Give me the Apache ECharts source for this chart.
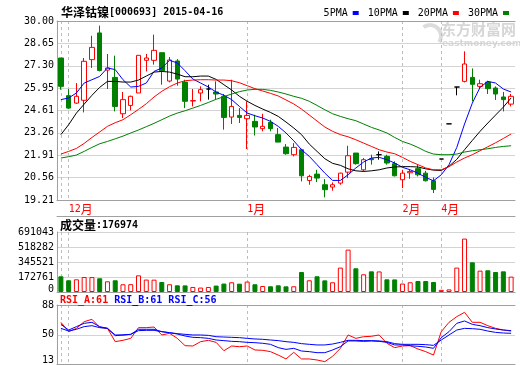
<!DOCTYPE html>
<html>
<head>
<meta charset="utf-8">
<script src="https://cdn.jsdelivr.net/npm/echarts@6/dist/echarts.min.js"></script>
<style>
html, body { margin: 0; padding: 0; background: #fff; }
#chart { width: 520px; height: 365px; }
</style>
</head>
<body>
<div id="chart"></div>
<script>
// 交易日
const dates = [
  '2014-11-28',
  '2014-12-01', '2014-12-02', '2014-12-03', '2014-12-04', '2014-12-05',
  '2014-12-08', '2014-12-09', '2014-12-10', '2014-12-11', '2014-12-12',
  '2014-12-15', '2014-12-16', '2014-12-17', '2014-12-18', '2014-12-19',
  '2014-12-22', '2014-12-23', '2014-12-24', '2014-12-25', '2014-12-26',
  '2014-12-29', '2014-12-30', '2014-12-31',
  '2015-01-05', '2015-01-06', '2015-01-07', '2015-01-08', '2015-01-09',
  '2015-01-12', '2015-01-13', '2015-01-14', '2015-01-15', '2015-01-16',
  '2015-01-19', '2015-01-20', '2015-01-21', '2015-01-22', '2015-01-23',
  '2015-01-26', '2015-01-27', '2015-01-28', '2015-01-29', '2015-01-30',
  '2015-02-02', '2015-02-03', '2015-02-04', '2015-02-05', '2015-02-06',
  '2015-04-02', '2015-04-03', '2015-04-07', '2015-04-08', '2015-04-09',
  '2015-04-10', '2015-04-13', '2015-04-14', '2015-04-15', '2015-04-16'
]

// K线
const opens = [27.77, 25.50, 25.05, 25.22, 27.67, 29.28, 27.04, 26.60, 24.41, 24.91,
  25.66, 27.63, 27.63, 28.09, 26.38, 27.59, 26.32, 25.18, 25.66, 25.90,
  25.72, 25.46, 24.21, 24.31, 24.11, 23.95, 23.51, 23.89, 23.15, 22.40,
  21.94, 22.24, 20.39, 20.77, 20.13, 19.99, 20.23, 20.89, 22.04, 21.03,
  21.70, 21.94, 21.84, 21.40, 20.43, 20.85, 21.10, 20.83, 20.37, 21.68,
  23.80, 26.02, 26.36, 26.60, 26.06, 26.32, 25.96, 25.42, 24.99]
const closes = [26.06, 24.75, 25.46, 27.57, 28.41, 27.02, 27.17, 24.85, 25.26, 25.46,
  27.93, 27.77, 28.23, 27.00, 27.65, 26.50, 25.16, 25.20, 25.86, 25.90,
  25.60, 24.19, 24.85, 24.19, 24.31, 23.61, 23.65, 23.51, 22.70, 22.00,
  22.38, 20.67, 20.63, 20.53, 19.83, 20.13, 20.83, 21.88, 21.40, 21.64,
  21.64, 21.94, 21.44, 20.67, 20.83, 20.93, 20.73, 20.37, 19.85, 21.68,
  23.80, 26.02, 27.41, 26.18, 26.22, 25.92, 25.60, 25.26, 25.46]
const lows = [25.86, 24.70, 25.00, 24.49, 27.17, 26.96, 25.90, 24.55, 24.15, 24.61,
  25.66, 26.96, 27.37, 26.16, 26.30, 26.10, 24.75, 24.85, 25.16, 25.26,
  25.26, 23.45, 23.79, 23.85, 22.28, 23.10, 23.35, 23.35, 22.70, 21.94,
  21.84, 20.33, 20.13, 20.29, 19.37, 19.77, 20.13, 20.53, 21.34, 20.93,
  21.34, 21.64, 21.34, 20.63, 19.93, 20.49, 20.63, 20.33, 19.63, 21.68,
  23.80, 25.52, 26.30, 25.16, 25.96, 25.60, 25.24, 24.55, 24.85]
const highs = [27.77, 25.90, 26.26, 27.77, 29.11, 29.72, 28.01, 27.91, 25.72, 25.50,
  27.93, 28.01, 29.18, 28.09, 27.83, 27.70, 26.46, 25.90, 26.06, 26.16,
  26.36, 25.60, 26.46, 24.75, 25.16, 24.35, 24.41, 24.05, 23.55, 22.58,
  22.64, 22.30, 20.73, 21.03, 20.47, 20.27, 20.85, 22.48, 22.04, 21.74,
  21.94, 22.14, 21.94, 21.54, 21.03, 21.03, 21.34, 20.97, 20.57, 21.68,
  23.80, 26.02, 28.17, 27.14, 26.46, 26.40, 26.06, 25.72, 25.60]

// 均线
const ma5 = [25.26, 25.36, 25.66, 26.26, 26.46, 26.66, 27.17, 27.07, 26.46, 26.02,
  26.06, 26.26, 26.96, 27.17, 27.63, 27.47, 27.00, 26.50, 26.26, 26.02,
  25.72, 25.52, 25.26, 24.85, 24.45, 24.29, 24.15, 23.95, 23.65, 23.25,
  22.78, 22.24, 21.84, 21.34, 20.83, 20.39, 20.39, 20.73, 21.14, 21.50,
  21.74, 21.78, 21.64, 21.44, 21.18, 21.03, 20.83, 20.57, 20.37, 20.73,
  21.34, 22.38, 23.79, 25.05, 26.00, 26.36, 26.26, 25.90, 25.72]
const ma10 = [23.15, 23.75, 24.45, 24.99, 25.52, 26.00, 26.36, 26.36, 26.32, 26.32,
  26.44, 26.68, 26.92, 26.96, 26.92, 26.80, 26.64, 26.64, 26.68, 26.68,
  26.48, 26.16, 25.84, 25.46, 25.16, 24.91, 24.69, 24.49, 24.25, 23.91,
  23.55, 23.15, 22.58, 22.14, 21.70, 21.42, 21.30, 21.09, 20.97, 20.93,
  20.97, 21.03, 21.14, 21.20, 21.22, 21.22, 21.20, 21.09, 21.01, 20.99,
  21.24, 21.66, 22.24, 22.80, 23.35, 23.85, 24.33, 24.81, 25.36]
const ma20 = [21.98, 22.14, 22.32, 22.62, 22.98, 23.31, 23.65, 23.87, 24.05, 24.35,
  24.67, 25.01, 25.42, 25.76, 26.04, 26.26, 26.40, 26.44, 26.46, 26.46,
  26.44, 26.44, 26.40, 26.28, 26.10, 25.92, 25.78, 25.64, 25.48, 25.24,
  25.00, 24.69, 24.33, 23.97, 23.61, 23.35, 23.15, 23.02, 22.84, 22.64,
  22.44, 22.24, 22.10, 22.00, 21.78, 21.54, 21.34, 21.14, 21.03, 21.03,
  21.22, 21.50, 21.74, 21.94, 22.18, 22.42, 22.66, 22.92, 23.19]
const ma30 = [21.74, 21.82, 21.92, 22.14, 22.38, 22.60, 22.74, 22.90, 23.06, 23.25,
  23.43, 23.63, 23.83, 24.05, 24.27, 24.45, 24.59, 24.75, 24.91, 25.09,
  25.28, 25.44, 25.60, 25.74, 25.84, 25.88, 25.88, 25.82, 25.72, 25.60,
  25.46, 25.34, 25.16, 24.91, 24.65, 24.41, 24.25, 24.11, 23.99, 23.79,
  23.59, 23.43, 23.25, 22.98, 22.74, 22.58, 22.38, 22.14, 21.98, 21.94,
  21.94, 21.98, 22.10, 22.18, 22.24, 22.30, 22.38, 22.44, 22.48]

// 成交量
const volumes = [181000, 135000, 146000, 173000, 172000, 158000, 123000, 135000, 89000, 90000,
  192000, 143000, 142000, 115000, 89000, 77000, 76000, 58000, 51000, 58000,
  74000, 97000, 112000, 96000, 120000, 89000, 69000, 66000, 77000, 65000,
  66000, 230000, 135000, 181000, 134000, 112000, 281000, 488000, 273000, 204000,
  238000, 237000, 146000, 145000, 97000, 112000, 127000, 126000, 115000, 25000,
  30000, 281000, 615000, 342000, 246000, 250000, 230000, 238000, 176974]

// RSI
const rsiA = [66.0, 54.1, 58.3, 66.8, 69.8, 59.6, 58.3, 41.4, 43.1, 45.6,
  59.2, 59.2, 60.0, 49.9, 52.0, 45.6, 36.3, 35.9, 41.4, 43.1,
  40.5, 29.9, 35.9, 35.0, 35.9, 30.8, 30.4, 28.7, 24.4, 19.4,
  27.8, 19.4, 19.4, 18.1, 16.0, 22.8, 32.9, 49.9, 45.6, 47.7,
  48.2, 49.9, 39.3, 33.8, 35.9, 36.3, 32.1, 28.7, 24.4, 54.1,
  66.0, 73.2, 78.7, 66.0, 66.0, 61.7, 58.3, 56.2, 54.9]
const rsiB = [63.4, 56.2, 60.5, 64.7, 66.0, 60.5, 58.3, 49.9, 49.9, 50.7,
  57.1, 57.1, 57.1, 54.1, 52.8, 51.1, 48.6, 46.9, 46.5, 45.6,
  43.5, 42.7, 41.8, 41.4, 40.5, 40.1, 39.3, 38.0, 33.8, 31.6,
  32.9, 29.5, 28.7, 27.4, 27.4, 30.8, 35.0, 42.3, 42.3, 41.8,
  42.3, 41.8, 40.5, 37.2, 37.2, 36.3, 35.5, 34.6, 32.9, 46.5,
  54.1, 64.7, 67.7, 63.4, 61.7, 59.2, 57.5, 56.2, 55.4]
const rsiC = [58.3, 54.9, 57.1, 60.5, 61.7, 59.2, 58.3, 49.0, 49.9, 50.7,
  55.4, 55.8, 55.8, 54.1, 52.8, 51.6, 50.7, 49.9, 49.9, 49.4,
  47.7, 47.3, 46.9, 46.5, 45.6, 44.8, 44.4, 43.5, 42.7, 41.4,
  40.5, 38.9, 38.0, 37.2, 37.2, 38.4, 40.5, 43.1, 43.1, 42.7,
  42.7, 42.3, 41.4, 38.9, 38.0, 38.0, 38.0, 37.6, 36.7, 43.5,
  49.9, 56.2, 58.3, 57.9, 57.1, 54.9, 53.2, 52.4, 52.0]

// 刻度
const priceTicks = [19.21, 20.56, 21.91, 23.26, 24.61, 25.95, 27.30, 28.65, 30.00]
const volTicks = [0, 172761, 345521, 518282, 691043]
const rsiTicks = [13, 50, 88]

const MONO = 'DejaVu Sans Mono'
const CJK = 'Noto Sans CJK SC'
const RED = '#ff0000'
const GREEN = '#008000'
const BLUE = '#0000ff'
const FRAME = '#a0a0a0'
const GRID = '#d4d4d4'

const chart = echarts.init(document.getElementById('chart'))

function monthOf(i) {
  return dates[i].slice(5, 7)
}

function isMonthStart(i) {
  return i > 0 && monthOf(i) !== monthOf(i - 1)
}

// 月份分隔虚线（第一根也画）
const splitX = {
  show: true,
  alignWithLabel: true,
  interval: (i) => i === 0 || isMonthStart(i),
  lineStyle: { color: '#bdbdbd', type: [3, 3], width: 1 }
}

function xAxisFor(gridIndex, showLabel) {
  return {
    type: 'category',
    gridIndex: gridIndex,
    data: dates,
    boundaryGap: true,
    axisLine: { show: true, lineStyle: { color: FRAME } },
    axisTick: { show: false },
    axisLabel: {
      show: showLabel,
      interval: (i) => isMonthStart(i),
      formatter: (v) => '{d|' + parseInt(v.slice(5, 7), 10) + '}{m|月}',
      align: 'left',
      margin: 3,
      rich: {
        d: { fontFamily: MONO, fontSize: 10, color: RED },
        m: { fontFamily: CJK, fontSize: 12, color: RED }
      }
    },
    splitLine: splitX
  }
}

function frameTop(gridIndex, offset) {
  return {
    type: 'category',
    gridIndex: gridIndex,
    data: dates,
    position: 'top',
    offset: offset,
    axisLine: { show: true, lineStyle: { color: FRAME } },
    axisTick: { show: false },
    axisLabel: { show: false },
    splitLine: { show: false }
  }
}

function yAxisFor(gridIndex, min, max, ticks, fmt, lowPad) {
  return {
    type: 'value',
    gridIndex: gridIndex,
    min: min,
    max: max,
    axisLine: { show: true, lineStyle: { color: FRAME } },
    axisTick: { show: false, customValues: ticks },
    axisLabel: {
      customValues: ticks,
      hideOverlap: false,
      formatter: (v) => (v === min && lowPad ? '{lo|' + fmt(v) + '}' : fmt(v)),
      fontFamily: MONO,
      fontSize: 10,
      color: '#000',
      margin: 3,
      rich: {
        lo: { fontFamily: MONO, fontSize: 10, color: '#000', padding: [0, 0, lowPad || 0, 0] }
      }
    },
    splitLine: { show: true, lineStyle: { color: GRID, width: 1 } }
  }
}

const candleData = opens.map((o, i) => [o, closes[i], lows[i], highs[i]])

const volData = volumes.map((v, i) => ({
  value: v,
  itemStyle: closes[i] >= opens[i]
    ? { color: '#fff', borderColor: RED, borderWidth: 1 }
    : { color: GREEN, borderColor: GREEN, borderWidth: 1 }
}))

function maLine(name, data, color) {
  return {
    name: name,
    type: 'line',
    xAxisIndex: 0,
    yAxisIndex: 0,
    data: data,
    symbol: 'none',
    showSymbol: false,
    silent: true,
    z: 3,
    lineStyle: { color: color, width: 1 },
    itemStyle: { color: color }
  }
}

function rsiLine(name, data, color) {
  return {
    name: name,
    type: 'line',
    xAxisIndex: 2,
    yAxisIndex: 2,
    data: data,
    symbol: 'none',
    showSymbol: false,
    silent: true,
    lineStyle: { color: color, width: 1 },
    itemStyle: { color: color }
  }
}

const option = {
  animation: false,
  backgroundColor: '#fff',
  title: [
    {
      left: 61, top: 6, padding: 0,
      text: '{c|华泽钴镍}{n|[000693] 2015-04-16}',
      textStyle: {
        rich: {
          c: { fontFamily: CJK, fontSize: 12, color: '#000' },
          n: { fontFamily: MONO, fontSize: 10, color: '#000' }
        }
      }
    },
    {
      left: 60, top: 219, padding: 0,
      text: '{c|成交量}{n|:' + volumes[volumes.length - 1] + '}',
      textStyle: {
        rich: {
          c: { fontFamily: CJK, fontSize: 12, color: '#000' },
          n: { fontFamily: MONO, fontSize: 10, color: '#000' }
        }
      }
    },
    {
      left: 60, top: 295, padding: 0,
      text: '{a|RSI_A:61}{b| RSI_B:61 RSI_C:56}',
      textStyle: {
        rich: {
          a: { fontFamily: MONO, fontSize: 10, color: RED },
          b: { fontFamily: MONO, fontSize: 10, color: BLUE }
        }
      }
    }
  ],
  legend: {
    data: ['5PMA', '10PMA', '20PMA', '30PMA'],
    right: 11,
    top: 8,
    padding: 0,
    icon: 'rect',
    itemWidth: 6,
    itemHeight: 4,
    itemGap: 9,
    align: 'right',
    selectedMode: false,
    textStyle: { fontFamily: MONO, fontSize: 10, color: '#000' }
  },
  graphic: [
    {
      type: 'arc', z: 0, silent: true,
      shape: { cx: 430, cy: 36, r: 11, startAngle: -2.2, endAngle: 0.6 },
      style: { stroke: '#dcdcdc', lineWidth: 4, fill: null }
    },
    {
      type: 'text', left: 441, top: 22, z: 0, silent: true,
      style: { text: '东方财富网', font: 'bold 15px "Noto Sans CJK SC"', fill: '#d6d6d6' }
    },
    {
      type: 'text', left: 442, top: 39, z: 0, silent: true,
      style: { text: 'eastmoney.com', font: 'bold 9px "DejaVu Sans"', fill: '#d6d6d6' }
    }
  ],
  grid: [
    { left: 57, right: 5, top: 21, height: 179, outerBoundsMode: 'none' },
    { left: 57, right: 5, top: 232, height: 60, outerBoundsMode: 'none' },
    { left: 57, right: 5, top: 305, height: 59, outerBoundsMode: 'none' }
  ],
  xAxis: [
    xAxisFor(0, true),
    xAxisFor(1, false),
    xAxisFor(2, false),
    frameTop(1, 16),
    frameTop(0, 0),
    frameTop(2, 0)
  ],
  yAxis: [
    yAxisFor(0, 19.21, 30, priceTicks, (v) => v.toFixed(2), 0),
    yAxisFor(1, 0, 691043, volTicks, (v) => String(v), 6),
    yAxisFor(2, 13, 88, rsiTicks, (v) => String(v), 8)
  ],
  series: [
    {
      name: 'K',
      type: 'candlestick',
      xAxisIndex: 0,
      yAxisIndex: 0,
      data: candleData,
      barWidth: 5,
      silent: true,
      z: 2,
      itemStyle: {
        color: '#fff',
        color0: GREEN,
        borderColor: RED,
        borderColor0: GREEN,
        borderColorDoji: '#000',
        borderWidth: 1
      }
    },
    maLine('5PMA', ma5, BLUE),
    maLine('10PMA', ma10, '#000'),
    maLine('20PMA', ma20, RED),
    maLine('30PMA', ma30, GREEN),
    {
      name: '成交量',
      type: 'bar',
      xAxisIndex: 1,
      yAxisIndex: 1,
      data: volData,
      barWidth: 5,
      silent: true
    },
    rsiLine('RSI_A', rsiA, RED),
    rsiLine('RSI_B', rsiB, BLUE),
    rsiLine('RSI_C', rsiC, BLUE)
  ]
}

chart.setOption(option)
</script>
</body>
</html>
